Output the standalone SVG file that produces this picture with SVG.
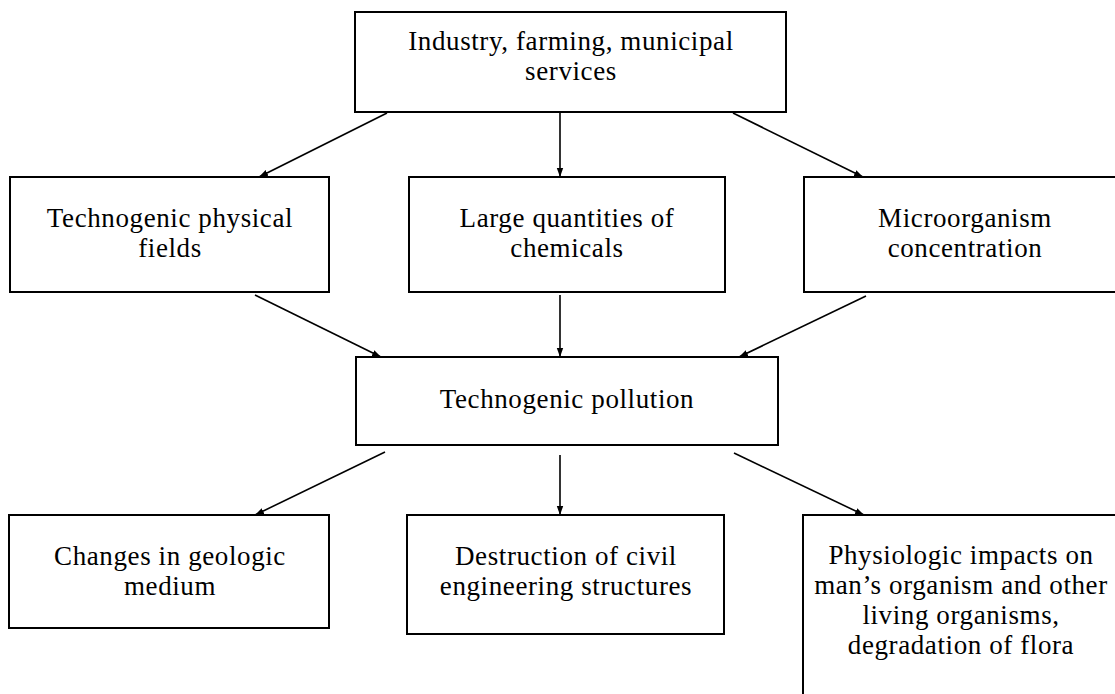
<svg xmlns="http://www.w3.org/2000/svg" width="1115" height="694" viewBox="0 0 1115 694">
  <style>
    .box { fill: #ffffff; stroke: #000000; stroke-width: 2; }
    .lbl { font-family: "Liberation Serif", "DejaVu Serif", serif; font-size: 27px; letter-spacing: 0.6px; fill: #000000; text-anchor: middle; }
    .edge { fill: none; stroke: #000000; stroke-width: 1.6; marker-end: url(#tip); }
  </style>
  <defs>
    <marker id="tip" markerUnits="userSpaceOnUse" markerWidth="10" markerHeight="8" refX="9" refY="4" orient="auto">
      <path d="M0,0.8 L9,4 L0,7.2 Z" fill="#000000"/>
    </marker>
  </defs>
  <rect width="1115" height="694" fill="#ffffff"/>

  <!-- sources -->
  <g id="sources">
    <rect class="box" x="355" y="12" width="431" height="100"/>
    <text class="lbl" x="571" y="50">Industry, farming, municipal</text>
    <text class="lbl" x="571" y="80">services</text>
  </g>

  <!-- intermediate factors -->
  <g id="physical-fields">
    <rect class="box" x="10" y="177" width="319" height="115"/>
    <text class="lbl" x="170" y="227">Technogenic physical</text>
    <text class="lbl" x="170" y="257">fields</text>
  </g>
  <g id="chemicals">
    <rect class="box" x="409" y="177" width="316" height="115"/>
    <text class="lbl" x="567" y="227">Large quantities of</text>
    <text class="lbl" x="567" y="257">chemicals</text>
  </g>
  <g id="microorganisms">
    <rect class="box" x="804" y="177" width="322" height="115"/>
    <text class="lbl" x="965" y="227">Microorganism</text>
    <text class="lbl" x="965" y="257">concentration</text>
  </g>

  <!-- central node -->
  <g id="pollution">
    <rect class="box" x="356" y="357" width="422" height="88"/>
    <text class="lbl" x="567" y="408">Technogenic pollution</text>
  </g>

  <!-- consequences -->
  <g id="geologic-medium">
    <rect class="box" x="9" y="515" width="320" height="113"/>
    <text class="lbl" x="170" y="565">Changes in geologic</text>
    <text class="lbl" x="170" y="595">medium</text>
  </g>
  <g id="civil-structures">
    <rect class="box" x="407" y="515" width="317" height="119"/>
    <text class="lbl" x="566" y="565">Destruction of civil</text>
    <text class="lbl" x="566" y="595">engineering structures</text>
  </g>
  <g id="physiologic-impacts">
    <rect class="box" x="803" y="515" width="318" height="190"/>
    <text class="lbl" x="961" y="564">Physiologic impacts on</text>
    <text class="lbl" x="961" y="594">man’s organism and other</text>
    <text class="lbl" x="961" y="624">living organisms,</text>
    <text class="lbl" x="961" y="654">degradation of flora</text>
  </g>

  <!-- connectors -->
  <g id="connectors">
    <line class="edge" x1="387" y1="113" x2="259" y2="177"/>
    <line class="edge" x1="560" y1="113" x2="560" y2="177"/>
    <line class="edge" x1="733" y1="113" x2="863" y2="177"/>
    <line class="edge" x1="255" y1="295" x2="381" y2="357"/>
    <line class="edge" x1="560" y1="295" x2="560" y2="357"/>
    <line class="edge" x1="866" y1="296" x2="739" y2="357"/>
    <line class="edge" x1="385" y1="452" x2="255" y2="515"/>
    <line class="edge" x1="560" y1="455" x2="560" y2="515"/>
    <line class="edge" x1="734" y1="453" x2="864" y2="515"/>
  </g>
</svg>
